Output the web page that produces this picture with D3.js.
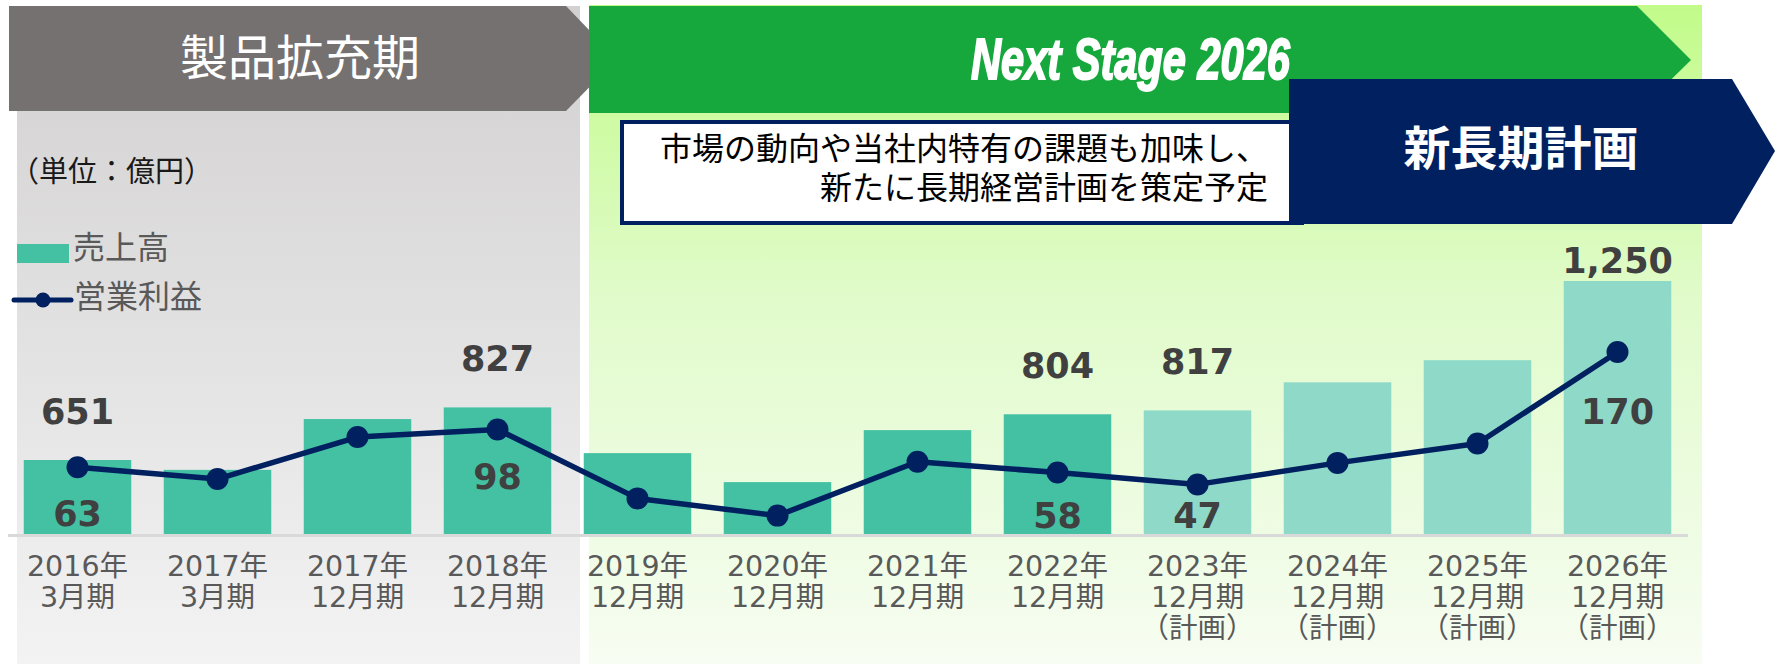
<!DOCTYPE html>
<html>
<head>
<meta charset="utf-8">
<script src="https://cdn.jsdelivr.net/npm/d3@7"></script>
<style>
  body { margin: 0; background: #fff; }
  svg { display: block; }
</style>
</head>
<body>
<script>
// data (億円)
var years = ["2016年", "2017年", "2017年", "2018年", "2019年", "2020年", "2021年", "2022年", "2023年", "2024年", "2025年", "2026年"];
var terms = ["3月期", "3月期", "12月期", "12月期", "12月期", "12月期", "12月期", "12月期", "12月期", "12月期", "12月期", "12月期"];
var planned = [false, false, false, false, false, false, false, false, true, true, true, true];
var sales = [651, 618, 788, 827, 674, 577, 751, 804, 817, 911, 985, 1250];
var profit = [63, 52, 91, 98, 34, 18, 68, 58, 47, 67, 85, 170];
var labelled = [0, 3, 7, 8, 11];

var W = 1775, H = 664;
var jp = "'Noto Sans CJK JP', sans-serif";
var num = "'DejaVu Sans', 'Noto Sans CJK JP', sans-serif";

var svg = d3.select("body").append("svg")
  .attr("width", W)
  .attr("height", H);

var defs = svg.append("defs");
var gg = defs.append("linearGradient").attr("id", "gray").attr("x1", 0).attr("y1", 0).attr("x2", 0).attr("y2", 1);
gg.append("stop").attr("offset", 0).attr("stop-color", "#d2d0d0");
gg.append("stop").attr("offset", 1).attr("stop-color", "#f3f3f3");
var gr = defs.append("linearGradient").attr("id", "green").attr("x1", 0).attr("y1", 0).attr("x2", 0).attr("y2", 1);
gr.append("stop").attr("offset", 0).attr("stop-color", "#c2fb8a");
gr.append("stop").attr("offset", 0.45).attr("stop-color", "#e1fbcb");
gr.append("stop").attr("offset", 1).attr("stop-color", "#f7fdf2");

// period panels
svg.append("rect").attr("x", 17).attr("y", 6).attr("width", 563).attr("height", H - 6).attr("fill", "url(#gray)");
svg.append("rect").attr("x", 589).attr("y", 5).attr("width", 1113).attr("height", H - 5).attr("fill", "url(#green)");

// banners
svg.append("path")
  .attr("d", "M9,6H566L617,59L566,111H9Z")
  .attr("fill", "#767171");
svg.append("text")
  .attr("x", 300).attr("y", 75)
  .attr("text-anchor", "middle")
  .attr("font-family", jp).attr("font-size", 48)
  .attr("fill", "#fff")
  .text("製品拡充期");

svg.append("path")
  .attr("d", "M589,6H1637L1691,60L1637,113H589Z")
  .attr("fill", "#17a83d");
svg.append("text")
  .attr("x", 971).attr("y", 79)
  .attr("textLength", 319).attr("lengthAdjust", "spacingAndGlyphs")
  .attr("font-family", "'Liberation Sans Narrow', 'Liberation Sans', sans-serif")
  .attr("font-size", 58).attr("font-weight", "bold").attr("font-style", "italic")
  .attr("fill", "#fff").attr("stroke", "#fff").attr("stroke-width", 2)
  .text("Next Stage 2026");

// note box
svg.append("rect")
  .attr("x", 622).attr("y", 122).attr("width", 680).attr("height", 101)
  .attr("fill", "#fff").attr("stroke", "#002060").attr("stroke-width", 4);
var note = svg.append("text")
  .attr("text-anchor", "end")
  .attr("font-family", jp).attr("font-size", 32)
  .attr("fill", "#000");
note.append("tspan").attr("x", 1268).attr("y", 160).text("市場の動向や当社内特有の課題も加味し、");
note.append("tspan").attr("x", 1268).attr("y", 199).text("新たに長期経営計画を策定予定");

svg.append("path")
  .attr("d", "M1289,79H1732L1775,151L1732,224H1289Z")
  .attr("fill", "#002060");
svg.append("text")
  .attr("x", 1521).attr("y", 165)
  .attr("text-anchor", "middle")
  .attr("font-family", jp).attr("font-size", 47).attr("font-weight", "bold")
  .attr("fill", "#fff")
  .text("新長期計画");

// unit + legend
svg.append("text")
  .attr("x", 10).attr("y", 182)
  .attr("font-family", jp).attr("font-size", 29)
  .attr("fill", "#1a1a1a")
  .text("（単位：億円）");

svg.append("rect").attr("x", 17).attr("y", 244).attr("width", 52).attr("height", 19).attr("fill", "#44c1a3");
svg.append("text").attr("x", 73).attr("y", 259)
  .attr("font-family", jp).attr("font-size", 32).attr("fill", "#595959").text("売上高");
svg.append("line").attr("x1", 14).attr("x2", 71).attr("y1", 300).attr("y2", 300)
  .attr("stroke", "#002060").attr("stroke-width", 5).attr("stroke-linecap", "round");
svg.append("circle").attr("cx", 43).attr("cy", 300).attr("r", 7.5).attr("fill", "#002060");
svg.append("text").attr("x", 74).attr("y", 308)
  .attr("font-family", jp).attr("font-size", 32).attr("fill", "#595959").text("営業利益");

// scales
var x = d3.scaleBand()
  .domain(d3.range(years.length))
  .range([7.5, 1687.5])
  .paddingInner(0.232)
  .paddingOuter(0.116);
var y = d3.scaleLinear().domain([400, 1250]).range([535, 281]);
var y2 = d3.scaleLinear().domain([0, 170]).range([535, 352]);

// bars
svg.selectAll(".bar")
  .data(sales)
  .enter()
  .append("rect")
  .attr("class", "bar")
  .attr("x", function(d, i) { return x(i); })
  .attr("y", function(d) { return y(d); })
  .attr("width", x.bandwidth())
  .attr("height", function(d) { return y(400) - y(d); })
  .attr("fill", function(d, i) { return planned[i] ? "#8fd9c8" : "#44c1a3"; });

// x axis
var ax = svg.append("g")
  .attr("transform", "translate(0," + y(400) + ")")
  .call(d3.axisBottom(x).tickSize(0).tickSizeOuter(0).tickFormat(""));
ax.select(".domain").attr("stroke", "#d9d9d9").attr("stroke-width", 3);
ax.selectAll(".tick text").remove();
ax.selectAll(".tick").each(function(i) {
  var t = d3.select(this).append("text")
    .attr("text-anchor", "middle")
    .attr("font-family", num).attr("font-size", 28.5)
    .attr("fill", "#595959");
  t.append("tspan").attr("x", 0).attr("y", 41).text(years[i]);
  t.append("tspan").attr("x", 0).attr("y", 72).text(terms[i]);
  if (planned[i]) t.append("tspan").attr("x", 0).attr("y", 103).attr("font-family", jp).text("（計画）");
});

// operating profit line
var cx = function(i) { return x(i) + x.bandwidth() / 2; };
svg.append("path")
  .datum(profit)
  .attr("d", d3.line().x(function(d, i) { return cx(i); }).y(function(d) { return y2(d); }))
  .attr("fill", "none")
  .attr("stroke", "#002060")
  .attr("stroke-width", 5.5)
  .attr("stroke-linejoin", "round");
svg.selectAll(".dot")
  .data(profit)
  .enter()
  .append("circle")
  .attr("cx", function(d, i) { return cx(i); })
  .attr("cy", function(d) { return y2(d); })
  .attr("r", 11)
  .attr("fill", "#002060");

// value labels
var fmt = d3.format(",");
var last = sales.length - 1;
svg.selectAll(".slab")
  .data(labelled)
  .enter()
  .append("text")
  .attr("x", function(i) { return cx(i); })
  .attr("y", function(i) { return y(sales[i]) - (i === last ? 8 : 36); })
  .attr("text-anchor", "middle")
  .attr("font-family", num).attr("font-size", 35).attr("font-weight", "bold")
  .attr("fill", "#404040")
  .text(function(i) { return fmt(sales[i]); });
svg.selectAll(".plab")
  .data(labelled)
  .enter()
  .append("text")
  .attr("x", function(i) { return cx(i); })
  .attr("y", function(i) { return Math.min(y2(0) - 7, y2(profit[i]) + (i === last ? 72 : 59)); })
  .attr("text-anchor", "middle")
  .attr("font-family", num).attr("font-size", 35).attr("font-weight", "bold")
  .attr("fill", "#404040")
  .text(function(i) { return fmt(profit[i]); });
</script>
</body>
</html>
